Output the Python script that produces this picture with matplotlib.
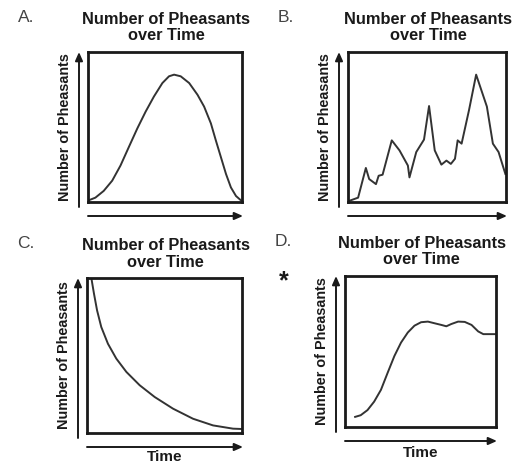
import matplotlib
matplotlib.use("Agg")
import matplotlib.pyplot as plt
from matplotlib.patches import FancyArrowPatch

plt.rcParams['font.family'] = ['Liberation Sans', 'DejaVu Sans']

W, H = 514, 465

# curve readings (time 0-100, count 0-100)
a_t = [0.4, 4.8, 10.2, 15.7, 21.1, 26.5, 32.0, 37.4, 42.8, 48.3, 52.6, 55.9,
       60.2, 65.7, 71.1, 75.4, 79.8, 83.0, 86.3, 89.6, 92.8, 96.1, 99.3]
a_n = [1.1, 2.9, 7.4, 14.2, 24.3, 36.6, 49.0, 60.2, 70.3, 79.3, 83.8, 84.9,
       83.8, 79.3, 71.5, 63.6, 52.4, 41.1, 29.9, 18.7, 9.7, 4.0, 1.1]

b_t = [0.6, 6.4, 11.3, 13.4, 17.7, 19.4, 21.9, 27.7, 32.6, 37.9, 38.9, 43.2, 48.1, 51.3,
       54.9, 59.1, 62.3, 65.1, 67.7, 69.4, 71.9, 76.6, 81.1, 87.9, 91.7, 95.3, 99.6]
b_n = [0.7, 2.9, 22.7, 15.3, 11.9, 17.5, 18.2, 41.1, 34.4, 24.3, 16.4, 33.3, 41.6, 64.0,
       34.4, 24.9, 27.6, 25.4, 28.8, 41.1, 38.9, 61.3, 84.9, 63.6, 38.9, 33.3, 18.7]

c_t = [2.8, 4.5, 6.5, 9.2, 13.5, 18.9, 25.4, 34.0, 43.7, 55.5, 68.4, 81.3, 94.2, 99.4]
c_n = [100.0, 89.9, 79.1, 68.4, 57.6, 48.0, 39.4, 30.8, 23.2, 15.7, 9.2, 4.9, 2.8, 2.6]

d_t = [6.7, 10.4, 14.9, 19.3, 23.8, 28.2, 32.7, 37.1, 41.6, 46.0, 50.4, 54.9, 59.3,
       63.8, 67.1, 70.4, 74.9, 79.3, 83.8, 88.2, 91.6, 96.0, 100.0]
d_n = [6.7, 7.8, 11.2, 16.8, 24.6, 35.8, 47.0, 55.9, 62.6, 67.1, 69.4, 69.8, 68.7,
       67.6, 66.7, 68.2, 69.8, 69.6, 67.6, 63.3, 61.5, 61.5, 61.5]

panels = [
    # letter, box (left, top, right, bottom) px, t, n, show Time label
    ("A.", (88, 52, 242, 202), a_t, a_n, False),
    ("B.", (348, 52, 506, 202), b_t, b_n, False),
    ("C.", (87, 278, 242, 433), c_t, c_n, True),
    ("D.", (345, 276, 496, 427), d_t, d_n, True),
]

fig = plt.figure(figsize=(W / 100, H / 100), dpi=100)
ink = "#1a1a1a"

def fx(x):
    return x / W

def fy(y):
    return 1 - y / H

for letter, (l, t, r, b), xs, ys, show_time in panels:
    ax = fig.add_axes([fx(l), fy(b), (r - l) / W, (b - t) / H])
    ax.plot(xs, ys, color="#333333", lw=1.4, solid_joinstyle="round")
    ax.set_xlim(0, 100)
    ax.set_ylim(0, 100)
    ax.set_xticks([])
    ax.set_yticks([])
    for s in ax.spines.values():
        s.set_linewidth(2.0)
        s.set_color(ink)

    cx = (l + r) / 2 + 1
    fig.text(fx(cx), fy(t - 33), "Number of Pheasants", ha="center", va="center",
             fontsize=11.8, fontweight="bold", color=ink)
    fig.text(fx(cx), fy(t - 16), "over Time", ha="center", va="center",
             fontsize=11.8, fontweight="bold", color=ink)
    fig.text(fx(l - 70), fy(t - 35), letter, ha="left", va="center",
             fontsize=12.5, color="#444444")
    fig.text(fx(l - 23), fy((t + b) / 2), "Number of Pheasants", ha="center", va="center",
             rotation=90, fontsize=10.4, fontweight="bold", color=ink)

    # axis arrows
    fig.add_artist(FancyArrowPatch(
        (fx(l - 9), fy(b + 5)), (fx(l - 9), fy(t)), transform=fig.transFigure,
        arrowstyle="-|>,head_length=5,head_width=2.2", lw=1.4, color=ink, shrinkA=0, shrinkB=0))
    fig.add_artist(FancyArrowPatch(
        (fx(l), fy(b + 14)), (fx(r + 1), fy(b + 14)), transform=fig.transFigure,
        arrowstyle="-|>,head_length=5,head_width=2.2", lw=1.4, color=ink, shrinkA=0, shrinkB=0))

    if show_time:
        fig.text(fx(cx - 1), fy(min(b + 26, 457)), "Time", ha="center", va="center",
                 fontsize=11, fontweight="bold", color=ink)

fig.text(fx(284), fy(281), "*", ha="center", va="center", fontsize=18,
         fontweight="bold", color=ink)

fig.savefig("out.png", dpi=100)
